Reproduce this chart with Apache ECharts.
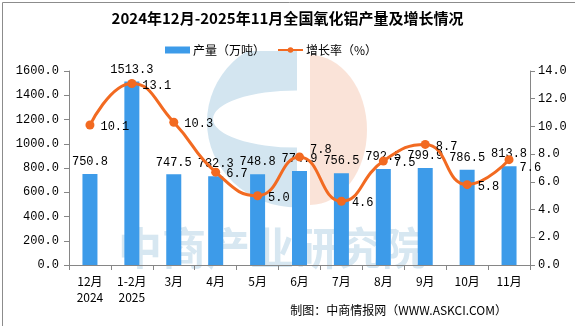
<!DOCTYPE html>
<html><head><meta charset="utf-8">
<script src="https://cdn.jsdelivr.net/npm/echarts@6/dist/echarts.min.js"></script>
<style>html,body{margin:0;padding:0;background:#fff}#c{width:575px;height:326px}</style>
</head><body><div id="c"></div>
<script>
const categories = ['12月\n2024','1-2月\n2025','3月','4月','5月','6月','7月','8月','9月','10月','11月'];
const output = [750.8,1513.3,747.5,732.3,748.8,774.9,756.5,792.5,799.9,786.5,813.8];
const growth = [10.1,13.1,10.3,6.7,5.0,7.8,4.6,7.5,8.7,5.8,7.6];
const leftTicks = {min:0,max:1600,interval:200};
const rightTicks = {min:0,max:14,interval:2};

const numFont = 'Liberation Mono';
const cjk = '"Noto Sans CJK SC"';
// label nudges for readability (by category index)
const lineLabelNudge = {5:[0,-7],10:[0,8]};
const growthData = growth.map((v,i)=> lineLabelNudge[i] ? {value:v,label:{offset:lineLabelNudge[i]}} : v);

const chart = echarts.init(document.getElementById('c'));
const blue = 'rgba(175,208,228,0.55)';
const peach = 'rgba(246,200,178,0.5)';
chart.setOption({
  animation:false,
  backgroundColor:'#fff',
  title:{text:'2024年12月-2025年11月全国氧化铝产量及增长情况',left:'center',top:6,
    textStyle:{fontFamily:cjk,fontSize:15,fontWeight:'bold',color:'#000'}},
  legend:{top:39,left:160,itemGap:12,itemWidth:25,itemHeight:7,
    textStyle:{fontFamily:cjk,fontSize:12,color:'#000',padding:[0,0,0,-2]},
    data:[{name:'产量（万吨）',icon:'rect'},{name:'增长率（%）'}]},
  graphic:[
    {type:'rect',left:0,top:0,shape:{width:574,height:325},style:{fill:'none',stroke:'#8c8c8c',lineWidth:1},z:100},
    {type:'sector',x:297,y:122,scaleY:0.95,shape:{cx:0,cy:0,r:90,r0:0,startAngle:Math.PI*0.5,endAngle:Math.PI*1.5},style:{fill:blue},z:-10,silent:true},
    {type:'sector',x:297,y:119,scaleY:0.34,shape:{cx:0,cy:0,r:84,r0:0,startAngle:Math.PI*0.5,endAngle:Math.PI*1.5},style:{fill:'#fff'},z:-9,silent:true},
    {type:'sector',x:310,y:130,scaleX:0.76,shape:{cx:0,cy:0,r:75,r0:0,startAngle:-Math.PI*0.5,endAngle:Math.PI*0.5},style:{fill:peach},z:-10,silent:true},
    {type:'rect',left:1,top:1,shape:{width:572,height:50},style:{fill:'#fff'},z:-8,silent:true},
    {type:'text',left:118,top:226,style:{text:'中商产业研究院',font:'bold 44px "Noto Sans CJK SC"',fill:'rgba(175,208,228,0.5)'},z:-10,silent:true},
    {type:'text',right:68,top:304,style:{text:'制图：中商情报网（WWW.ASKCI.COM）',font:'12px "Noto Sans CJK SC"',fill:'#000'}}
  ],
  grid:{left:69,right:45,top:71,bottom:61},
  xAxis:{type:'category',data:categories,
    axisLine:{lineStyle:{color:'#868686'}},
    axisTick:{show:true,length:5,lineStyle:{color:'#868686'}},
    axisLabel:{fontFamily:cjk,fontSize:12,color:'#000',lineHeight:16,margin:8,interval:0}},
  yAxis:[
    {type:'value',min:leftTicks.min,max:leftTicks.max,interval:leftTicks.interval,
     axisLine:{show:true,lineStyle:{color:'#868686'}},axisTick:{show:true,length:5,lineStyle:{color:'#868686'}},
     splitLine:{show:false},
     axisLabel:{fontFamily:numFont,fontSize:12,color:'#000',margin:10,formatter:v=>v.toFixed(1)}},
    {type:'value',min:rightTicks.min,max:rightTicks.max,interval:rightTicks.interval,position:'right',
     axisLine:{show:true,lineStyle:{color:'#868686'}},axisTick:{show:true,length:5,lineStyle:{color:'#868686'}},
     splitLine:{show:false},
     axisLabel:{fontFamily:numFont,fontSize:12,color:'#000',margin:8,formatter:v=>v.toFixed(1)}}
  ],
  series:[
    {name:'产量（万吨）',type:'bar',data:output,barWidth:15,itemStyle:{color:'#3d9be9'},
     label:{show:true,position:'top',distance:6,fontFamily:numFont,fontSize:12,color:'#000',formatter:p=>p.value.toFixed(1)}},
    {name:'增长率（%）',type:'line',yAxisIndex:1,data:growthData,smooth:true,symbol:'circle',symbolSize:9,
     lineStyle:{color:'#f26a21',width:3},itemStyle:{color:'#f26a21'},
     label:{show:true,position:'right',distance:6,offset:[0,2],fontFamily:numFont,fontSize:12,color:'#000',formatter:p=>Number(p.value).toFixed(1)}}
  ]
});
</script></body></html>
